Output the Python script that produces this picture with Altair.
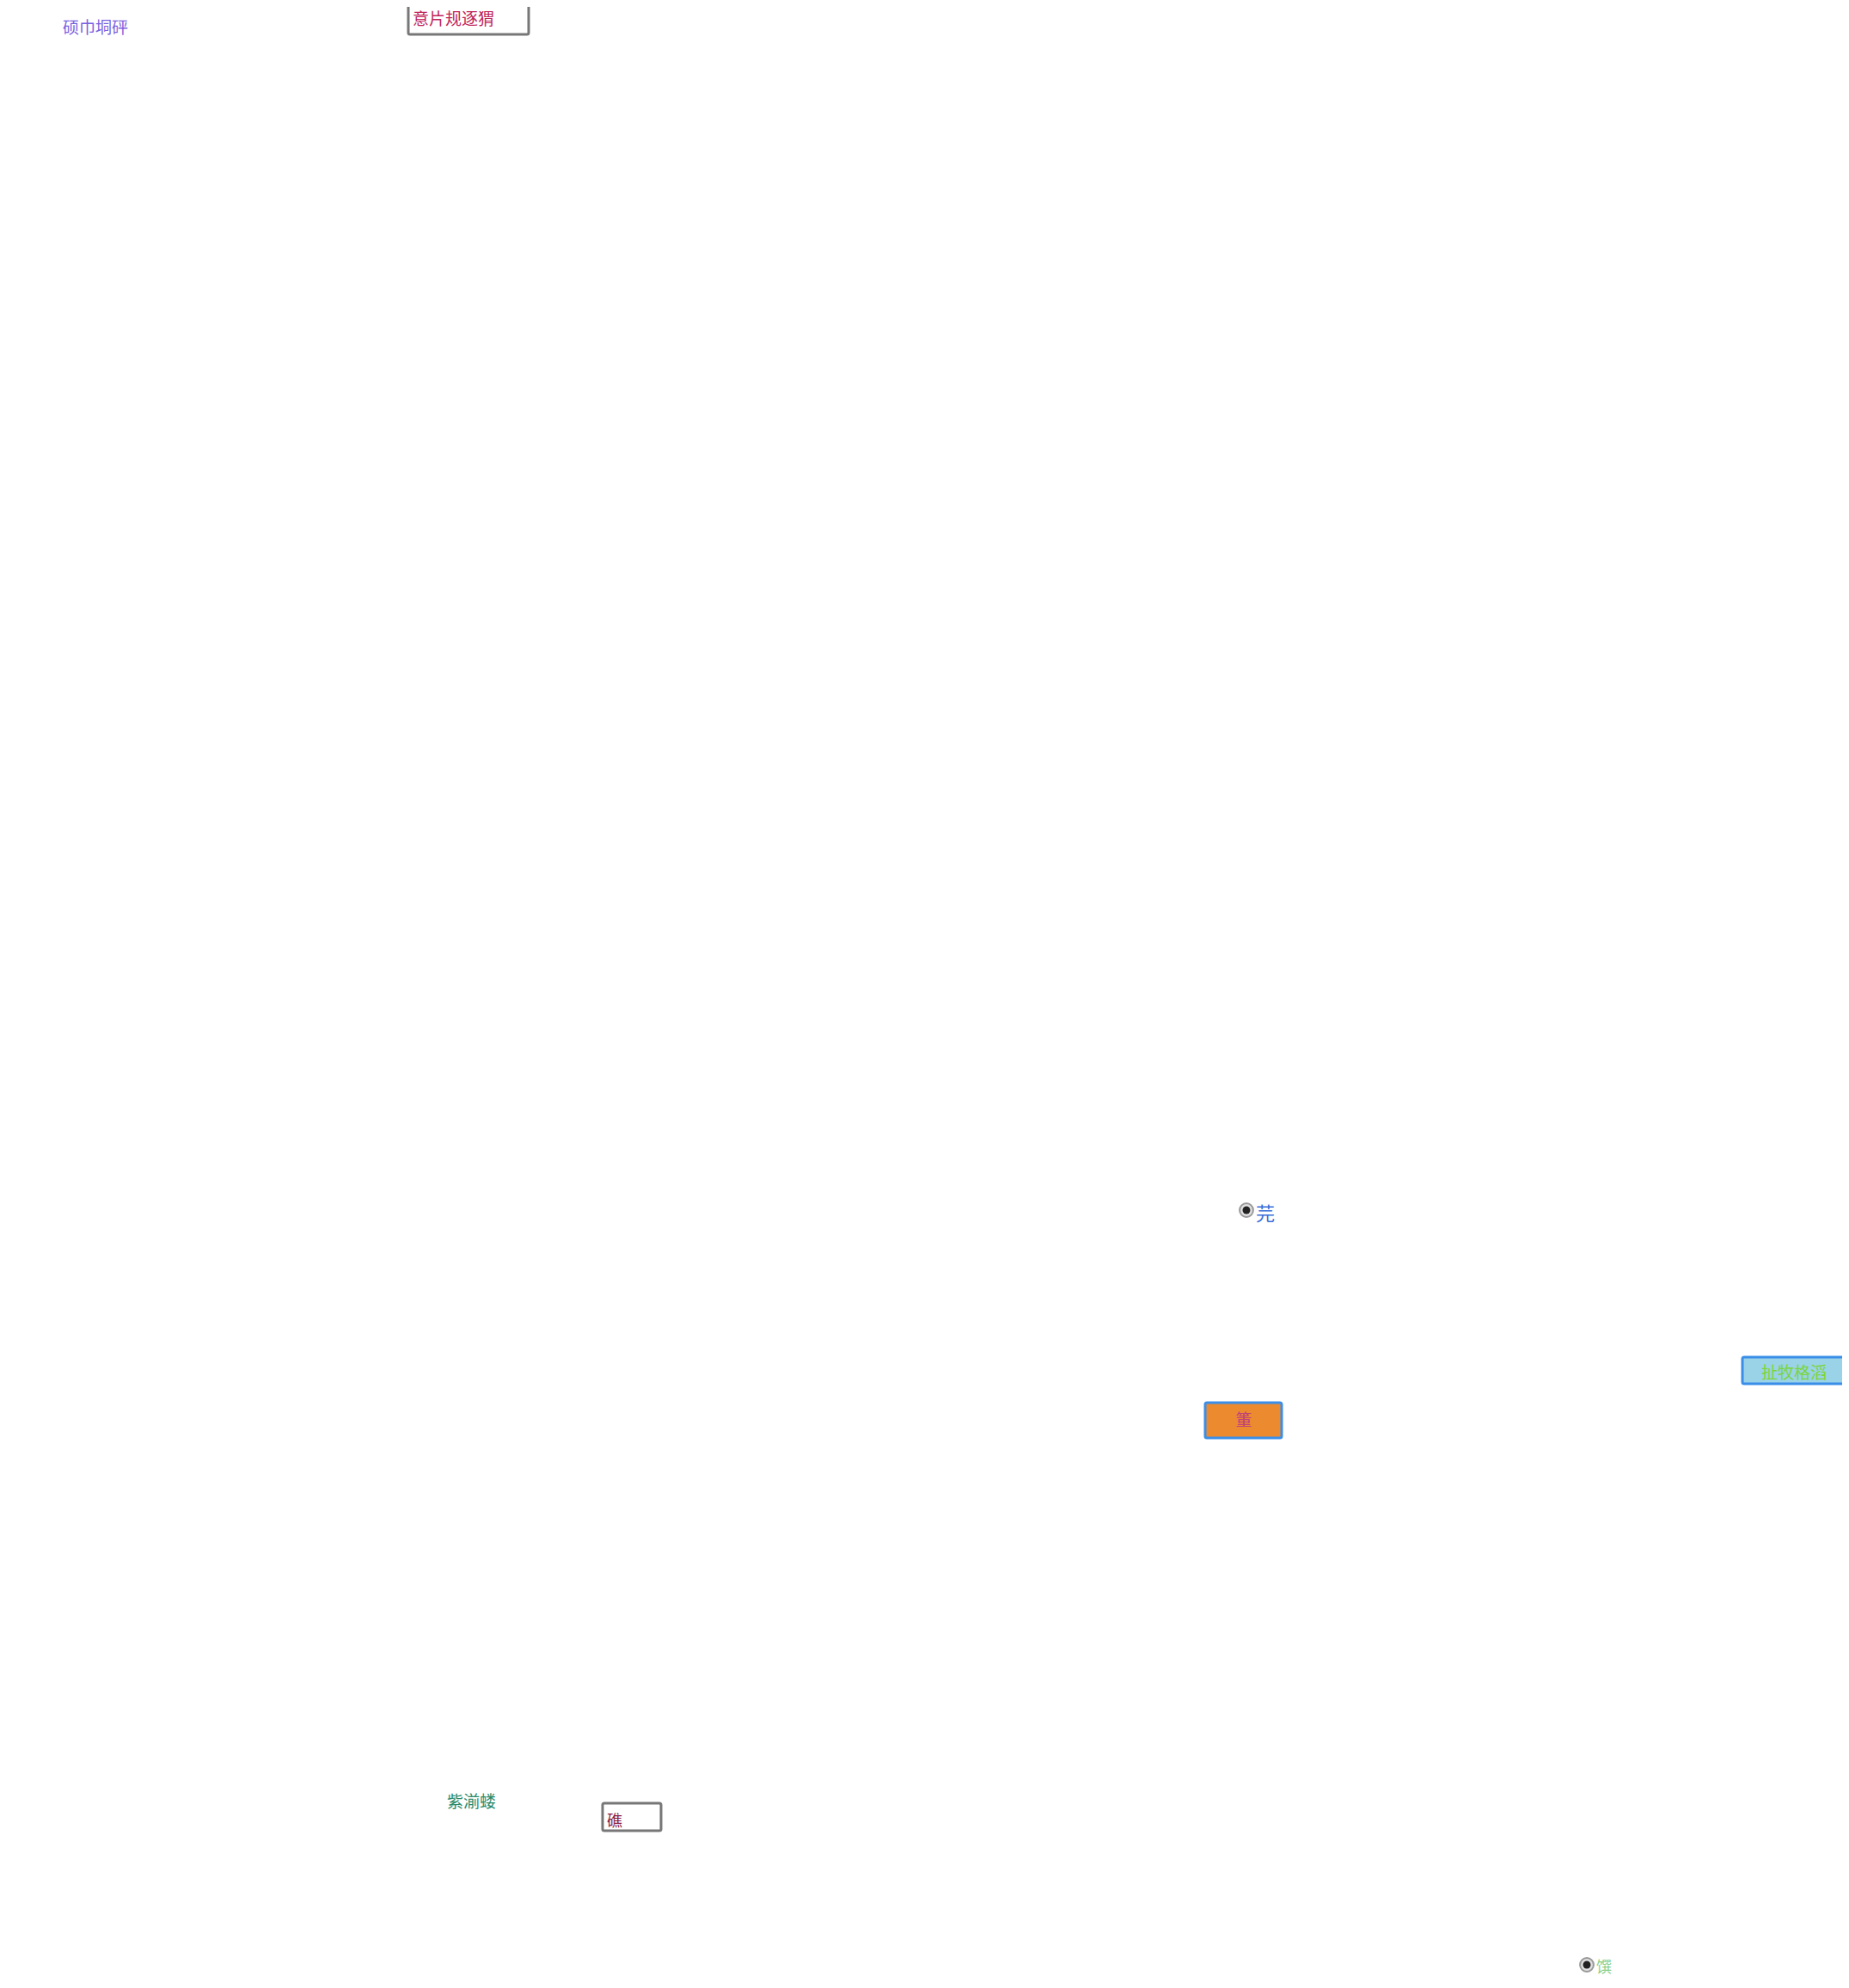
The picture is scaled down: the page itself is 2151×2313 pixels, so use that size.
import altair as alt
import pandas as pd

# widgets (page pixel coordinates)
box_x1 = [475, 701, 1402, 2027]
box_x2 = [615, 769, 1491, 2146]
box_y1 = [1, 2098, 1632, 1579]
box_y2 = [40, 2130, 1673, 1610]
box_fill = ["#ffffff", "#ffffff", "#ec8a30", "#9ad2e8"]
box_stroke = ["#777777", "#777777", "#3a8ee8", "#3a8ee8"]

labels = ["硕巾垌砰", "意片规逐猬", "芫", "扯牧格滔", "箽", "紫湔蝼", "礁", "馔"]
lab_x = [73, 480, 1461, 2087, 1447, 520, 706, 1857]
lab_y = [33, 23, 1413, 1598, 1653, 2097, 2120, 2290]
lab_align = ["left", "left", "left", "center", "center", "left", "left", "left"]
lab_color = ["#7a5fe0", "#c0245a", "#3a6fd8", "#7ad63a", "#c0407a", "#2a8a6a", "#8a1a3a", "#8ad08a"]
lab_size = [19, 19, 22, 19, 19, 19, 18, 18]

radio_x = [1450, 1846]
radio_y = [1408, 2286]

W, H = 2135, 2297
xs = alt.Scale(domain=[8, 8 + W], nice=False, zero=False)
ys = alt.Scale(domain=[8 + H, 8], nice=False, zero=False)

boxes = pd.DataFrame(dict(x1=box_x1, x2=box_x2, y1=box_y1, y2=box_y2, f=box_fill, s=box_stroke))
box_layer = alt.Chart(boxes).mark_rect(strokeWidth=3, cornerRadius=2).encode(
    x=alt.X("x1:Q", scale=xs, axis=None), x2="x2:Q",
    y=alt.Y("y1:Q", scale=ys, axis=None), y2="y2:Q",
    fill=alt.Fill("f:N", scale=None), stroke=alt.Stroke("s:N", scale=None))

radios = pd.DataFrame(dict(x=radio_x, y=radio_y))
r_outer = alt.Chart(radios).mark_circle(size=250, color="#e0e0e0", stroke="#999999", strokeWidth=2, opacity=1).encode(
    x=alt.X("x:Q", scale=xs, axis=None), y=alt.Y("y:Q", scale=ys, axis=None))
r_inner = alt.Chart(radios).mark_circle(size=80, color="#222222", opacity=1).encode(
    x=alt.X("x:Q", scale=xs, axis=None), y=alt.Y("y:Q", scale=ys, axis=None))

texts = []
for i in range(len(labels)):
    d = pd.DataFrame(dict(t=[labels[i]], x=[lab_x[i]], y=[lab_y[i]]))
    texts.append(alt.Chart(d).mark_text(align=lab_align[i], baseline="middle", font="Noto Sans CJK SC",
                                        fontSize=lab_size[i], color=lab_color[i]).encode(
        x=alt.X("x:Q", scale=xs, axis=None), y=alt.Y("y:Q", scale=ys, axis=None), text="t:N"))

chart = alt.layer(box_layer, r_outer, r_inner, *texts).properties(
    width=W, height=H, padding=0, autosize=alt.AutoSizeParams(type="none"), background="#ffffff"
).configure_view(stroke=None)

chart.save("out.html", embed_options={"renderer": "svg", "actions": False})
